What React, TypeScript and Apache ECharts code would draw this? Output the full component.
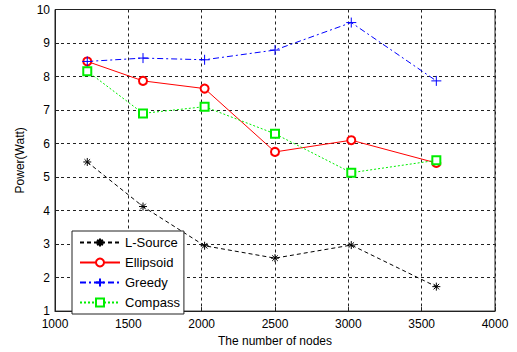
import React, { useEffect, useRef } from "react";
import * as echarts from "echarts";

const nodes = [1220, 1600, 2020, 2500, 3020, 3600];
const lSource = [5.45, 4.12, 2.95, 2.58, 2.97, 1.73];
const ellipsoid = [8.45, 7.87, 7.64, 5.75, 6.1, 5.42];
const greedy = [8.45, 8.55, 8.5, 8.79, 9.61, 7.87];
const compass = [8.16, 6.9, 7.1, 6.29, 5.13, 5.5];

const FONT = "'Liberation Sans', Arial, sans-serif";
const PLUS = "path://M5,0 L5,10 M0,5 L10,5";
const STAR = "path://M5,0 L5,10 M0,5 L10,5 M1.5,1.5 L8.5,8.5 M1.5,8.5 L8.5,1.5";

const pair = (ys: number[]) => nodes.map((x, i) => [x, ys[i]]);

export default function App() {
  const ref = useRef<HTMLDivElement>(null);
  useEffect(() => {
    if (!ref.current) return;
    const chart = echarts.init(ref.current, null, { renderer: "svg" });
    const mk = (
      name: string,
      ys: number[],
      color: string,
      type: any,
      symbol: string,
      size: number,
      empty: boolean
    ) => ({
      name,
      type: "line",
      data: pair(ys),
      symbol,
      symbolSize: size,
      showAllSymbol: true,
      lineStyle: { color, width: 1, type },
      itemStyle: empty
        ? { color, borderColor: color, borderWidth: 1 }
        : { color: "none", borderColor: color, borderWidth: 1 },
      emphasis: { disabled: true },
    });
    chart.setOption({
      animation: false,
      backgroundColor: "#fff",
      textStyle: { fontFamily: FONT },
      grid: {
        left: 55,
        right: 22,
        top: 9.5,
        bottom: 33.3,
        show: true,
        borderColor: "#222",
        borderWidth: 1,
        backgroundColor: "transparent",
      },
      xAxis: {
        type: "value",
        min: 1000,
        max: 4000,
        interval: 500,
        name: "The number of nodes",
        nameLocation: "middle",
        nameGap: 20,
        nameTextStyle: { color: "#000", fontSize: 12, fontFamily: FONT },
        axisLine: { show: true, lineStyle: { color: "#222" } },
        axisTick: { show: true, inside: true, length: 4, lineStyle: { color: "#222" } },
        axisLabel: {
          color: "#000",
          fontSize: 12,
          margin: 7,
          lineHeight: 12,
          fontFamily: FONT,
          formatter: (v: number) => String(v),
        },
        splitLine: { show: true, lineStyle: { color: "#222", type: [3, 3], width: 1 } },
      },
      yAxis: {
        type: "value",
        min: 1,
        max: 10,
        interval: 1,
        name: "Power(Watt)",
        nameLocation: "middle",
        nameGap: 29,
        nameTextStyle: { color: "#000", fontSize: 12, fontFamily: FONT },
        axisLine: { show: true, lineStyle: { color: "#222" } },
        axisTick: { show: true, inside: true, length: 4, lineStyle: { color: "#222" } },
        axisLabel: {
          color: "#000",
          fontSize: 12,
          margin: 5,
          lineHeight: 10,
          padding: [0, 0, 3, 0],
          fontFamily: FONT,
        },
        splitLine: { show: true, lineStyle: { color: "#222", type: [3, 3], width: 1 } },
      },
      legend: {
        orient: "vertical",
        left: 72,
        top: 231,
        backgroundColor: "#fff",
        borderColor: "#222",
        borderWidth: 1,
        borderRadius: 0,
        padding: [5, 4, 5, 7],
        itemWidth: 40,
        itemHeight: 10,
        itemGap: 7,
        textStyle: { color: "#000", fontSize: 13, fontFamily: FONT },
        data: ["L-Source", "Ellipsoid", "Greedy", "Compass"],
      },
      series: [
        mk("L-Source", lSource, "#000000", [4, 3], STAR, 8, false),
        mk("Ellipsoid", ellipsoid, "#ff0000", "solid", "emptyCircle", 8, true),
        mk("Greedy", greedy, "#0000ff", [6, 3, 2, 3], PLUS, 10, false),
        mk("Compass", compass, "#00ee00", [2, 2], "emptyRect", 8, true),
      ],
    });
    return () => chart.dispose();
  }, []);
  return <div ref={ref} style={{ width: 517, height: 352, position: "fixed", left: 0, top: 0 }} />;
}
